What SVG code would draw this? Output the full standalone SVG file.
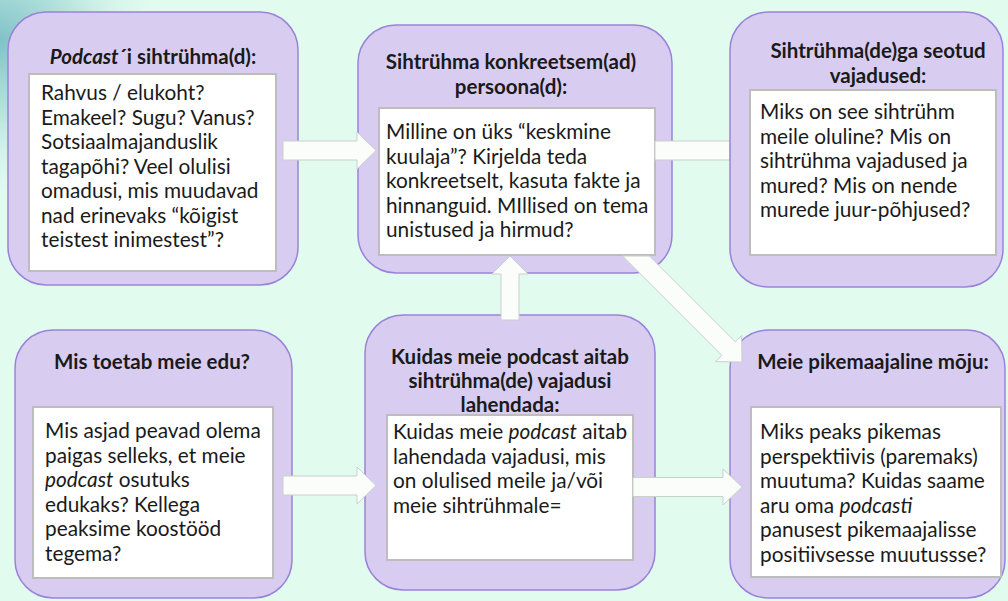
<svg xmlns="http://www.w3.org/2000/svg" width="1008" height="601" viewBox="0 0 1008 601">
<defs>
<radialGradient id="glow" cx="0" cy="40" r="170" gradientUnits="userSpaceOnUse">
<stop offset="0" stop-color="#7fc2c8"/>
<stop offset="0.45" stop-color="#afe0da" stop-opacity="0.8"/>
<stop offset="1" stop-color="#e1fbef" stop-opacity="0"/>
</radialGradient>
<style>
.outer{fill:#d8cdf1;stroke:#9a82d8;stroke-width:1.5}
.inner{fill:#ffffff;stroke:#bdbdbd;stroke-width:2}
.t{font-family:Lato,"Liberation Sans",sans-serif;font-weight:bold;font-size:20.5px;fill:#1a1a1a;text-anchor:middle}
.b{font-family:Lato,"Liberation Sans",sans-serif;font-size:20.8px;fill:#1a1a1a}
.i{font-style:italic}
.arr{fill:#fbfdfb;stroke:#c9d1cd;stroke-width:1}
</style>
</defs>
<rect width="1008" height="601" fill="#e1fbef"/>
<rect width="1008" height="601" fill="url(#glow)"/>

<g id="node1">
<rect class="outer" x="8" y="12" width="290" height="273" rx="38"/>
<rect class="inner" x="29" y="74" width="247" height="197"/>
<text class="t" x="153" y="64"><tspan class="i">Podcast</tspan>´i sihtrühma(d):</text>
<text class="b"><tspan x="41" y="100">Rahvus / elukoht?</tspan><tspan x="41" y="124.5">Emakeel? Sugu? Vanus?</tspan><tspan x="41" y="149">Sotsiaalmajanduslik</tspan><tspan x="41" y="173.5">tagapõhi? Veel olulisi</tspan><tspan x="41" y="198">omadusi, mis muudavad</tspan><tspan x="41" y="222.5">nad erinevaks “kõigist</tspan><tspan x="41" y="247">teistest inimestest”?</tspan></text>
</g>

<g id="node2">
<rect class="outer" x="358" y="25" width="314" height="248" rx="38"/>
<rect class="inner" x="379" y="108" width="276" height="147"/>
<text class="t"><tspan x="511" y="69">Sihtrühma konkreetsem(ad)</tspan><tspan x="511" y="94">persoona(d):</tspan></text>
<text class="b"><tspan x="386" y="139">Milline on üks “keskmine</tspan><tspan x="386" y="163.5">kuulaja”? Kirjelda teda</tspan><tspan x="386" y="188">konkreetselt, kasuta fakte ja</tspan><tspan x="386" y="212.5">hinnanguid. MIllised on tema</tspan><tspan x="386" y="237">unistused ja hirmud?</tspan></text>
</g>

<g id="node4">
<rect class="outer" x="15" y="330" width="277" height="268" rx="38"/>
<rect class="inner" x="33" y="407" width="240" height="171"/>
<text class="t" x="152" y="369">Mis toetab meie edu?</text>
<text class="b"><tspan x="45" y="438">Mis asjad peavad olema</tspan><tspan x="45" y="462.5">paigas selleks, et meie</tspan><tspan x="45" y="487"><tspan class="i">podcast</tspan> osutuks</tspan><tspan x="45" y="511.5">edukaks? Kellega</tspan><tspan x="45" y="536">peaksime koostööd</tspan><tspan x="45" y="560.5">tegema?</tspan></text>
</g>

<g id="node5">
<rect class="outer" x="365" y="315" width="290" height="275" rx="38"/>
<rect class="inner" x="387" y="415" width="246" height="145"/>
<text class="t"><tspan x="510" y="364">Kuidas meie podcast aitab</tspan><tspan x="510" y="388">sihtrühma(de) vajadusi</tspan><tspan x="510" y="412">lahendada:</tspan></text>
<text class="b"><tspan x="393" y="439">Kuidas meie <tspan class="i">podcast</tspan> aitab</tspan><tspan x="393" y="463.5">lahendada vajadusi, mis</tspan><tspan x="393" y="488">on olulised meile ja/või</tspan><tspan x="393" y="512.5">meie sihtrühmale=</tspan></text>
</g>

<g id="connectors">
<polygon class="arr" points="283,141 357,141 357,132 376,150.5 357,169 357,160 283,160"/>
<rect class="arr" x="655" y="141" width="75" height="19"/>
<polygon class="arr" points="501,320 501,274 492,274 510,256 528,274 519,274 519,320"/>
<polygon class="arr" points="283,476 357,476 357,467 376,485.5 357,504 357,495 283,495"/>
</g>

<g id="node3">
<rect class="outer" x="730" y="12" width="273" height="275" rx="38"/>
<rect class="inner" x="750" y="90" width="246" height="165"/>
<text class="t"><tspan x="878" y="58">Sihtrühma(de)ga seotud</tspan><tspan x="878" y="83">vajadused:</tspan></text>
<text class="b"><tspan x="760" y="119">Miks on see sihtrühm</tspan><tspan x="760" y="143.5">meile oluline? Mis on</tspan><tspan x="760" y="168">sihtrühma vajadused ja</tspan><tspan x="760" y="192.5">mured? Mis on nende</tspan><tspan x="760" y="217">murede juur-põhjused?</tspan></text>
</g>

<g id="node6">
<rect class="outer" x="730" y="330" width="275" height="268" rx="38"/>
<rect class="inner" x="751" y="407" width="250" height="170"/>
<text class="t" x="873" y="369">Meie pikemaajaline mõju:</text>
<text class="b"><tspan x="760" y="439">Miks peaks pikemas</tspan><tspan x="760" y="463.5">perspektiivis (paremaks)</tspan><tspan x="760" y="488">muutuma? Kuidas saame</tspan><tspan x="760" y="512.5">aru oma <tspan class="i">podcasti</tspan></tspan><tspan x="760" y="537">panusest pikemaajalisse</tspan><tspan x="760" y="561.5">positiivsesse muutussse?</tspan></text>
</g>

<g id="connectors-front">
<polygon class="arr" points="622.56,256 649.44,256 735.29,341.85 741.65,335.49 742,362 715.49,361.65 721.85,355.29"/>
<polygon class="arr" points="633,477.5 723,477.5 723,469 742,487 723,505 723,496.5 633,496.5"/>
</g>
</svg>
